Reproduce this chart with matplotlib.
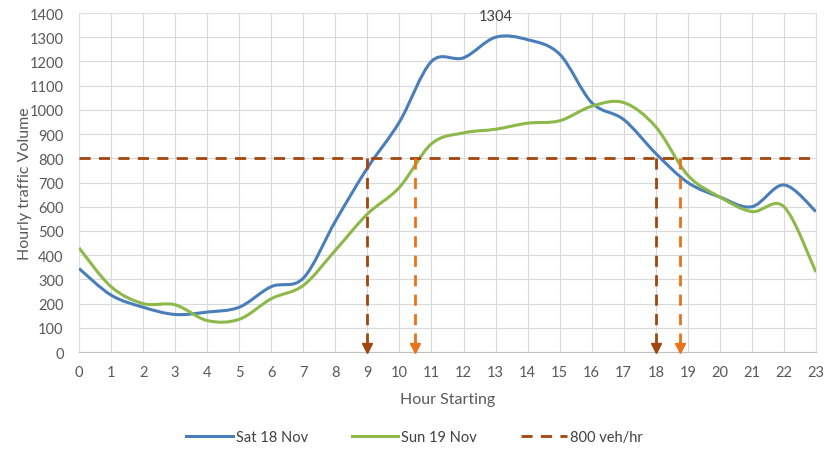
import numpy as np
import matplotlib
matplotlib.use("Agg")
import matplotlib.pyplot as plt
from matplotlib.path import Path
from matplotlib.patches import PathPatch
from matplotlib.lines import Line2D

plt.rcParams['font.family'] = ['Lato', 'DejaVu Sans']

hours = list(range(24))
sat = [345, 235, 185, 155, 165, 185, 270, 305, 540, 760, 950, 1200,
       1215, 1300, 1290, 1230, 1030, 960, 820, 700, 640, 600, 690, 580]
sun = [430, 270, 200, 195, 130, 135, 220, 275, 420, 570, 680, 860,
       905, 920, 945, 955, 1015, 1030, 930, 730, 640, 580, 600, 330]
threshold = 800
sat_cross = [9, 18]
sun_cross = [10.5, 18.75]
peak_label = "1304"
peak_x = 13

C_SAT = '#4A7EBB'
C_SUN = '#8DB84A'
C_DARK = '#A0460E'
C_ORANGE = '#E8731A'

def smooth_path(x, y):
    x = np.asarray(x, float); y = np.asarray(y, float)
    n = len(x)
    verts = [(x[0], y[0])]
    codes = [Path.MOVETO]
    for i in range(n - 1):
        p0 = np.array([x[max(i-1, 0)], y[max(i-1, 0)]])
        p1 = np.array([x[i], y[i]])
        p2 = np.array([x[i+1], y[i+1]])
        p3 = np.array([x[min(i+2, n-1)], y[min(i+2, n-1)]])
        c1 = p1 + (p2 - p0) / 6.0
        c2 = p2 - (p3 - p1) / 6.0
        verts += [tuple(c1), tuple(c2), tuple(p2)]
        codes += [Path.CURVE4] * 3
    return Path(verts, codes)

fig = plt.figure(figsize=(8.29, 4.52), dpi=100)
ax = fig.add_axes([0.0953, 0.219, 0.8890, 0.750])

ax.set_xlim(0, 23)
ax.set_ylim(0, 1400)
ax.set_xticks(hours)
ax.set_yticks(range(0, 1401, 100))
ax.grid(True, color='#D9D9D9', linewidth=0.8)
ax.set_axisbelow(True)
for s in ['top', 'right', 'left']:
    ax.spines[s].set_color('#E0E0E0')
    ax.spines[s].set_linewidth(0.8)
ax.spines['bottom'].set_color('#BFBFBF')
ax.tick_params(length=0, colors='#595959', labelsize=10.5)
ax.tick_params(axis='x', pad=9)
ax.tick_params(axis='y', pad=11)

ax.add_patch(PathPatch(smooth_path(hours, sat), fill=False, edgecolor=C_SAT, lw=2.2, zorder=3))
ax.add_patch(PathPatch(smooth_path(hours, sun), fill=False, edgecolor=C_SUN, lw=2.2, zorder=3))

ax.axhline(threshold, color=C_DARK, lw=2, dashes=(4, 3), zorder=4)
for xc in sat_cross:
    ax.plot([xc, xc], [threshold, 25], color=C_DARK, lw=2, dashes=(4, 3), zorder=4)
    ax.plot([xc], [18], marker='v', color=C_DARK, markersize=7, zorder=5, clip_on=False)
for xc in sun_cross:
    ax.plot([xc, xc], [threshold, 25], color=C_ORANGE, lw=2, dashes=(4, 3), zorder=4)
    ax.plot([xc], [18], marker='v', color=C_ORANGE, markersize=7, zorder=5, clip_on=False)

ax.text(peak_x, 1388, peak_label, ha='center', va='center', fontsize=10.5, color='#404040')

ax.set_ylabel('Hourly traffic Volume', fontsize=11.5, color='#595959')
ax.yaxis.set_label_coords(-0.064, 0.5)
ax.set_xlabel('Hour Starting', fontsize=11.5, color='#595959', labelpad=10)

handles = [Line2D([], [], color=C_SAT, lw=2.2),
           Line2D([], [], color=C_SUN, lw=2.2),
           Line2D([], [], color=C_DARK, lw=2, dashes=(4, 3))]
fig.legend(handles, ['Sat 18 Nov', 'Sun 19 Nov', '800 veh/hr'], loc='center',
           bbox_to_anchor=(0.5, 0.03), ncol=3, frameon=False, fontsize=10.5,
           labelcolor='#404040', handlelength=3.2, columnspacing=3, handletextpad=0.2)

fig.savefig('out.png', dpi=100, facecolor='white')
